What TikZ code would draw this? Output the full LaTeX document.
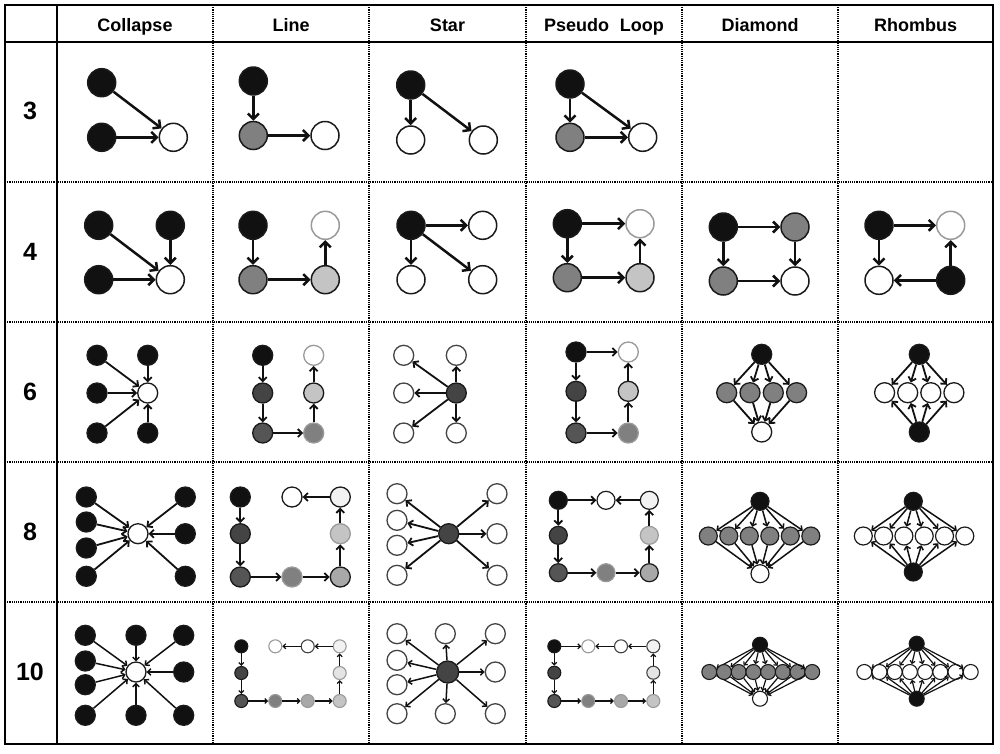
\documentclass[tikz,border=0pt]{standalone}
\usepackage{fontspec}
\setmainfont{Liberation Sans}
\usetikzlibrary{arrows.meta}
\definecolor{cK}{HTML}{111111}
\definecolor{c3}{HTML}{444444}
\definecolor{c35}{HTML}{555555}
\definecolor{c5}{HTML}{808080}
\definecolor{cA}{HTML}{A8A8A8}
\definecolor{cC}{HTML}{C4C4C4}
\definecolor{cE}{HTML}{E4E4E4}
\definecolor{cF}{HTML}{F2F2F2}
\definecolor{cOG}{HTML}{9A9A9A}
\definecolor{cLn}{HTML}{1A1A1A}
\tikzset{
  v/.style={circle,draw=cLn,inner sep=0pt},
  vL/.style={v,minimum size=28pt,line width=1.5pt},
  vM/.style={v,minimum size=20pt,line width=1.3pt},
  vS/.style={v,minimum size=18pt,line width=1.2pt},
  vD/.style={v,minimum size=15pt,line width=1.1pt},
  vT/.style={v,minimum size=13pt,line width=1.1pt},
  fk/.style={fill=cK},
  f3/.style={fill=c3},
  f35/.style={fill=c35},
  f5/.style={fill=c5},
  fA/.style={fill=cA},
  fC/.style={fill=cC},
  fE/.style={fill=cE},
  fF/.style={fill=cF},
  fw/.style={fill=white},
  og/.style={draw=cOG},
  od/.style={draw=c3},
  aL/.style={-{Straight Barb[length=5.5pt,width=11pt]},line width=2.5pt,draw=cK},
  aM/.style={-{Straight Barb[length=4pt,width=8pt]},line width=1.8pt,draw=cK},
  aS/.style={-{Straight Barb[length=3.2pt,width=6.5pt]},line width=1.5pt,draw=cK},
  aT/.style={-{Straight Barb[length=2.6pt,width=5pt]},line width=1.2pt,draw=cK},
  hd/.style={anchor=base,font=\fontsize{18}{20}\selectfont\bfseries},
  rl/.style={font=\fontsize{25}{28}\selectfont\bfseries},
  grid/.style={line width=1.1pt,dash pattern=on 1.1pt off 1.1pt,draw=black},
}
\begin{document}
\begin{tikzpicture}[x=1pt,y=-1pt]
\useasboundingbox (0,0) rectangle (1000,753);
% ---------- table ----------
\foreach \y in {182,322,462,602} \draw[grid] (5,\y) -- (993,\y);
\foreach \x in {213,369,526,682,838} \draw[grid] (\x,5) -- (\x,744);
\draw[line width=1.3pt] (5,42) -- (993,42);
\draw[line width=1.3pt] (57,5) -- (57,744);
\draw[line width=1.6pt] (5,5) rectangle (993,744);
% ---------- headers ----------
\node[hd] (hC) at (135,31) {Collapse};
\node[hd] (hL) at (291,31) {Line};
\node[hd] (hS) at (447.5,31) {Star};
\node[hd] (hP) at (604,31) {Pseudo\hspace{0.6em}Loop};
\node[hd] (hD) at (760,31) {Diamond};
\node[hd] (hR) at (915.5,31) {Rhombus};
\node[rl] (r3) at (30,111) {3};
\node[rl] (r4) at (30,252) {4};
\node[rl] (r6) at (30,392) {6};
\node[rl] (r8) at (30,532) {8};
\node[rl] (r10) at (30,672) {10};
% ================= row 3 =================
\node[vL,fk] (C3a) at (101.7,82.7) {};
\node[vL,fk] (C3b) at (101.7,137.3) {};
\node[vL,fw] (C3c) at (173.3,137.3) {};
\draw[aL] (C3a) -- (C3c); \draw[aL] (C3b) -- (C3c);
\node[vL,fk] (L3a) at (253.3,81) {};
\node[vL,f5] (L3b) at (253.3,135.5) {};
\node[vL,fw] (L3c) at (325,135.5) {};
\draw[aL] (L3a) -- (L3b); \draw[aL] (L3b) -- (L3c);
\node[vL,fk] (S3a) at (410.7,85) {};
\node[vL,fw] (S3b) at (410.7,140) {};
\node[vL,fw] (S3c) at (483.3,140) {};
\draw[aL] (S3a) -- (S3b); \draw[aL] (S3a) -- (S3c);
\node[vL,fk] (P3a) at (570,84) {};
\node[vL,f5] (P3b) at (570,137.3) {};
\node[vL,fw] (P3c) at (642.7,137.3) {};
\draw[aL] (P3a) -- (P3b); \draw[aL] (P3b) -- (P3c); \draw[aL] (P3a) -- (P3c);
% ================= row 4 =================
\node[vL,fk] (C4a) at (98.7,225.3) {};
\node[vL,fk] (C4b) at (170.3,225.3) {};
\node[vL,fk] (C4c) at (98.7,279.7) {};
\node[vL,fw] (C4d) at (170.3,279.7) {};
\draw[aL] (C4a) -- (C4d); \draw[aL] (C4b) -- (C4d); \draw[aL] (C4c) -- (C4d);
\node[vL,fk] (L4a) at (253,225.3) {};
\node[vL,fw,og] (L4b) at (325.3,225.3) {};
\node[vL,f5] (L4c) at (253,279.7) {};
\node[vL,fC] (L4d) at (325.3,279.7) {};
\draw[aL] (L4a) -- (L4c); \draw[aL] (L4c) -- (L4d); \draw[aL] (L4d) -- (L4b);
\node[vL,fk] (S4a) at (411,225.3) {};
\node[vL,fw] (S4b) at (482.7,225.3) {};
\node[vL,fw] (S4c) at (411,279.7) {};
\node[vL,fw] (S4d) at (482.7,279.7) {};
\draw[aL] (S4a) -- (S4b); \draw[aL] (S4a) -- (S4c); \draw[aL] (S4a) -- (S4d);
\node[vL,fk] (P4a) at (567.3,223.7) {};
\node[vL,fw,og] (P4b) at (640,223.7) {};
\node[vL,f5] (P4c) at (567.3,277.7) {};
\node[vL,fC] (P4d) at (640,277.7) {};
\draw[aL] (P4a) -- (P4b); \draw[aL] (P4a) -- (P4c); \draw[aL] (P4c) -- (P4d); \draw[aL] (P4d) -- (P4b);
\node[vL,fk] (D4a) at (723.3,227) {};
\node[vL,f5] (D4b) at (795,227) {};
\node[vL,f5] (D4c) at (723.3,281) {};
\node[vL,fw] (D4d) at (795,281) {};
\draw[aL] (D4a) -- (D4b); \draw[aL] (D4a) -- (D4c); \draw[aL] (D4b) -- (D4d); \draw[aL] (D4c) -- (D4d);
\node[vL,fk] (R4a) at (879,225.3) {};
\node[vL,fw,og] (R4b) at (950.7,225.3) {};
\node[vL,fw] (R4c) at (879,280.3) {};
\node[vL,fk] (R4d) at (950.7,280.3) {};
\draw[aL] (R4a) -- (R4b); \draw[aL] (R4a) -- (R4c); \draw[aL] (R4d) -- (R4b); \draw[aL] (R4d) -- (R4c);
% ================= row 6 =================
\node[vM,fw] (C6o) at (147.7,393) {};
\foreach \p [count=\i] in {{(97,355.3)},{(147.7,355.3)},{(97,393)},{(97,433)},{(147.7,433)}} {
  \node[vM,fk] (C6b\i) at \p {};
  \draw[aM] (C6b\i) -- (C6o);
}
\node[vM,fk] (L6a) at (262.7,355.3) {};
\node[vM,f3] (L6b) at (262.7,393) {};
\node[vM,f35] (L6c) at (262.7,433) {};
\node[vM,f5,og] (L6d) at (313.7,433) {};
\node[vM,fC] (L6e) at (313.7,393) {};
\node[vM,fw,og] (L6f) at (313.7,355.3) {};
\draw[aM] (L6a) -- (L6b); \draw[aM] (L6b) -- (L6c); \draw[aM] (L6c) -- (L6d);
\draw[aM] (L6d) -- (L6e); \draw[aM] (L6e) -- (L6f);
\node[vM,f3] (S6o) at (456.3,393) {};
\foreach \p [count=\i] in {{(403.7,355.3)},{(456.3,355.3)},{(403.7,393)},{(403.7,433)},{(456.3,433)}} {
  \node[vM,fw,od] (S6w\i) at \p {};
  \draw[aM] (S6o) -- (S6w\i);
}
\node[vM,fk] (P6a) at (576,352) {};
\node[vM,fw,og] (P6b) at (628.3,352) {};
\node[vM,f3] (P6c) at (576,391.3) {};
\node[vM,f35] (P6d) at (576,433) {};
\node[vM,f5,og] (P6e) at (628.3,433) {};
\node[vM,fC] (P6f) at (628.3,391.3) {};
\draw[aM] (P6a) -- (P6b); \draw[aM] (P6a) -- (P6c); \draw[aM] (P6c) -- (P6d);
\draw[aM] (P6d) -- (P6e); \draw[aM] (P6e) -- (P6f); \draw[aM] (P6f) -- (P6b);
\node[vM,fk] (D6t) at (761.7,354.3) {};
\node[vM,fw] (D6b) at (761.7,432) {};
\foreach \x [count=\i] in {726.7,750,773.3,796.6} {
  \node[vM,f5] (D6m\i) at (\x,392.7) {};
  \draw[aM] (D6t) -- (D6m\i); \draw[aM] (D6m\i) -- (D6b);
}
\node[vM,fk] (R6t) at (919.3,354.3) {};
\node[vM,fk] (R6b) at (919.3,432) {};
\foreach \x [count=\i] in {884.6,907.7,930.8,953.9} {
  \node[vM,fw] (R6m\i) at (\x,392.7) {};
  \draw[aM] (R6t) -- (R6m\i); \draw[aM] (R6b) -- (R6m\i);
}
% ================= row 8 =================
\node[vM,fw] (C8o) at (138,533.7) {};
\foreach \p [count=\i] in {{(86.3,497)},{(86.3,522)},{(86.3,548)},{(86.3,576.3)},{(185.3,497)},{(185.3,533.7)},{(185.3,576.3)}} {
  \node[vM,fk] (C8b\i) at \p {};
  \draw[aM] (C8b\i) -- (C8o);
}
\node[vM,fk] (L8a) at (240.3,497) {};
\node[vM,f3] (L8b) at (240.3,533.7) {};
\node[vM,f35] (L8c) at (240.3,577) {};
\node[vM,f5,og] (L8d) at (292,577) {};
\node[vM,fA] (L8e) at (340.3,577) {};
\node[vM,fC,og] (L8f) at (340.3,533.7) {};
\node[vM,fF] (L8g) at (340.3,497) {};
\node[vM,fw] (L8h) at (292,497) {};
\draw[aM] (L8a) -- (L8b); \draw[aM] (L8b) -- (L8c); \draw[aM] (L8c) -- (L8d);
\draw[aM] (L8d) -- (L8e); \draw[aM] (L8e) -- (L8f); \draw[aM] (L8f) -- (L8g);
\draw[aM] (L8g) -- (L8h);
\node[vM,f3] (S8o) at (448.7,533.7) {};
\foreach \p [count=\i] in {{(397,493.7)},{(397,520.3)},{(397,545.3)},{(397,575.3)},{(497,493.7)},{(497,533.7)},{(497,575.3)}} {
  \node[vM,fw,od] (S8w\i) at \p {};
  \draw[aM] (S8o) -- (S8w\i);
}
\node[vS,fk] (P8a) at (558.3,500.3) {};
\node[vS,fw] (P8b) at (606,500.3) {};
\node[vS,fF] (P8c) at (649.3,500.3) {};
\node[vS,f3] (P8d) at (558.3,535.3) {};
\node[vS,fC,og] (P8e) at (649.3,535.3) {};
\node[vS,f35] (P8f) at (558.3,572.7) {};
\node[vS,f5,og] (P8g) at (606,572.7) {};
\node[vS,fA] (P8h) at (649.3,572.7) {};
\draw[aM] (P8a) -- (P8b); \draw[aM] (P8c) -- (P8b); \draw[aM] (P8a) -- (P8d);
\draw[aM] (P8d) -- (P8f); \draw[aM] (P8f) -- (P8g); \draw[aM] (P8g) -- (P8h);
\draw[aM] (P8h) -- (P8e); \draw[aM] (P8e) -- (P8c);
\node[vS,fk] (D8t) at (760,501.3) {};
\node[vS,fw] (D8b) at (760,573.7) {};
\foreach \x [count=\i] in {708.3,728.8,749.3,769.8,790.3,810.8} {
  \node[vS,f5] (D8m\i) at (\x,536) {};
  \draw[aS] (D8t) -- (D8m\i); \draw[aS] (D8m\i) -- (D8b);
}
\node[vS,fk] (R8t) at (913.3,501.3) {};
\node[vS,fk] (R8b) at (913.3,572) {};
\foreach \x [count=\i] in {863.3,883.6,903.9,924.2,944.5,964.8} {
  \node[vS,fw] (R8m\i) at (\x,536) {};
  \draw[aS] (R8t) -- (R8m\i); \draw[aS] (R8b) -- (R8m\i);
}
% ================= row 10 =================
\node[vM,fw] (C10o) at (136,672) {};
\foreach \p [count=\i] in {{(85.3,635.3)},{(136,635.3)},{(183.7,635.3)},{(85.3,661)},{(85.3,684.7)},{(183.7,672)},{(85.3,715.3)},{(136,715.3)},{(183.7,715.3)}} {
  \node[vM,fk] (C10b\i) at \p {};
  \draw[aS] (C10b\i) -- (C10o);
}
\node[vT,fk] (L10a) at (241.3,646.3) {};
\node[vT,f3] (L10b) at (241.3,673) {};
\node[vT,f35] (L10c) at (241.3,701) {};
\node[vT,f5,og] (L10d) at (275.3,701) {};
\node[vT,fA,og] (L10e) at (307.7,701) {};
\node[vT,fC,og] (L10f) at (339.7,701) {};
\node[vT,fE,og] (L10g) at (339.7,673) {};
\node[vT,fF,og] (L10h) at (339.7,646.3) {};
\node[vT,fw,od] (L10i) at (307.7,646.3) {};
\node[vT,fw,og] (L10j) at (275.3,646.3) {};
\draw[aT] (L10a) -- (L10b); \draw[aT] (L10b) -- (L10c); \draw[aT] (L10c) -- (L10d);
\draw[aT] (L10d) -- (L10e); \draw[aT] (L10e) -- (L10f); \draw[aT] (L10f) -- (L10g);
\draw[aT] (L10g) -- (L10h); \draw[aT] (L10h) -- (L10i); \draw[aT] (L10i) -- (L10j);
\node[vM,f3,minimum size=22pt] (S10o) at (447.7,672) {};
\foreach \p [count=\i] in {{(397,633.7)},{(445.3,633.7)},{(495.3,633.7)},{(397,660.3)},{(397,684.7)},{(495.3,672)},{(397,713.7)},{(445.3,713.7)},{(495.3,713.7)}} {
  \node[vM,fw,od] (S10w\i) at \p {};
  \draw[aS] (S10o) -- (S10w\i);
}
\node[vT,fk] (P10a) at (554.3,646.3) {};
\node[vT,fw,og] (P10b) at (588.3,646.3) {};
\node[vT,fw,od] (P10c) at (621,646.3) {};
\node[vT,fF,od] (P10d) at (653.3,646.3) {};
\node[vT,f3] (P10e) at (554.3,672.7) {};
\node[vT,fE,od] (P10f) at (653.3,672.7) {};
\node[vT,f35] (P10g) at (554.3,701) {};
\node[vT,f5,og] (P10h) at (588.3,701) {};
\node[vT,fA,og] (P10i) at (621,701) {};
\node[vT,fC,og] (P10j) at (653.3,701) {};
\draw[aT] (P10a) -- (P10b); \draw[aT] (P10c) -- (P10b); \draw[aT] (P10d) -- (P10c);
\draw[aT] (P10a) -- (P10e); \draw[aT] (P10e) -- (P10g); \draw[aT] (P10g) -- (P10h);
\draw[aT] (P10h) -- (P10i); \draw[aT] (P10i) -- (P10j); \draw[aT] (P10j) -- (P10f);
\draw[aT] (P10f) -- (P10d);
\node[vD,fk] (D10t) at (760,644.7) {};
\node[vD,fw] (D10b) at (760,698.7) {};
\foreach \x [count=\i] in {709.3,724,738.7,753.4,768.1,782.8,797.5,812.2} {
  \node[vD,f5] (D10m\i) at (\x,672) {};
  \draw[aT] (D10t) -- (D10m\i); \draw[aT] (D10m\i) -- (D10b);
}
\node[vD,fk] (R10t) at (916.7,643.7) {};
\node[vD,fk] (R10b) at (916.7,698.7) {};
\foreach \x [count=\i] in {864.3,879.5,894.7,909.9,925.1,940.3,955.5,970.7} {
  \node[vD,fw] (R10m\i) at (\x,672) {};
  \draw[aT] (R10t) -- (R10m\i); \draw[aT] (R10b) -- (R10m\i);
}
\end{tikzpicture}
\end{document}
